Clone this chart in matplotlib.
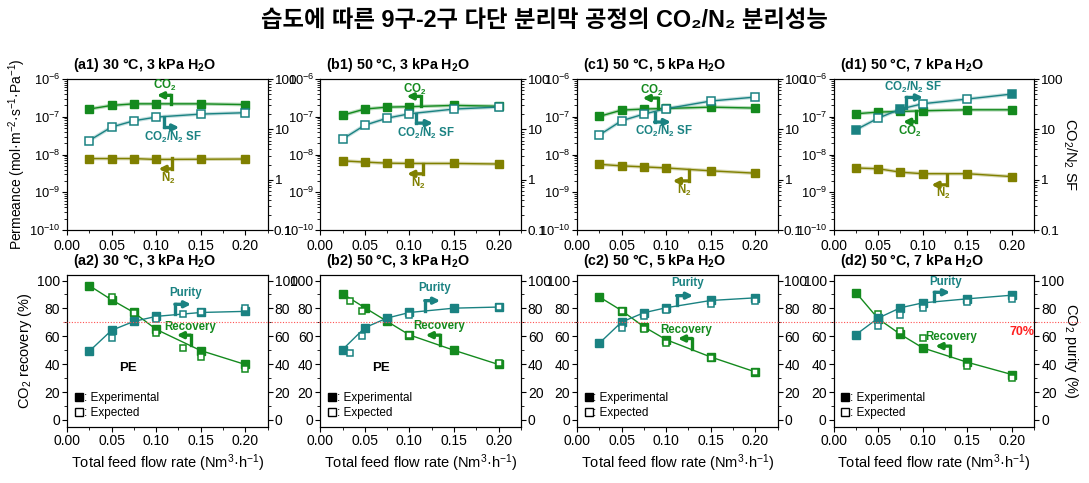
import numpy as np
import matplotlib.pyplot as plt
import matplotlib.transforms as mtransforms
from matplotlib.lines import Line2D
from matplotlib.ticker import MultipleLocator, FormatStrFormatter, FuncFormatter, FixedLocator, LogLocator

plt.rcParams['font.family'] = ['Liberation Sans', 'Noto Sans CJK KR', 'Noto Sans CJK JP', 'DejaVu Sans']
plt.rcParams['mathtext.default'] = 'regular'
plt.rcParams['font.size'] = 10
plt.rcParams['axes.unicode_minus'] = False

GREEN = '#148a1e'
TEAL = '#1a8282'
OLIVE = '#808000'

# feed flow rate (Nm3/h)
flow = [0.025, 0.05, 0.075, 0.1, 0.15, 0.2]

panel_top = ['(a1) 30 °C, 3 kPa H$_2$O', '(b1) 50 °C, 3 kPa H$_2$O',
             '(c1) 50 °C, 5 kPa H$_2$O', '(d1) 50 °C, 7 kPa H$_2$O']
panel_bot = ['(a2) 30 °C, 3 kPa H$_2$O', '(b2) 50 °C, 3 kPa H$_2$O',
             '(c2) 50 °C, 5 kPa H$_2$O', '(d2) 50 °C, 7 kPa H$_2$O']

# permeance (mol m-2 s-1 Pa-1)
co2_perm = [[1.6e-7, 2.0e-7, 2.2e-7, 2.2e-7, 2.2e-7, 2.1e-7],
            [1.1e-7, 1.6e-7, 1.8e-7, 1.85e-7, 2.0e-7, 1.9e-7],
            [1.02e-7, 1.5e-7, 1.6e-7, 1.66e-7, 1.8e-7, 1.7e-7],
            [1.2e-7, 1.33e-7, 1.38e-7, 1.44e-7, 1.53e-7, 1.53e-7]]
n2_perm = [[7.8e-9, 7.8e-9, 7.8e-9, 7.4e-9, 7.5e-9, 7.6e-9],
           [6.8e-9, 6.3e-9, 5.9e-9, 5.8e-9, 5.8e-9, 5.6e-9],
           [5.5e-9, 5.0e-9, 4.7e-9, 4.4e-9, 3.7e-9, 3.2e-9],
           [4.4e-9, 4.2e-9, 3.4e-9, 3.1e-9, 3.1e-9, 2.6e-9]]
# CO2/N2 separation factor
sf = [[6.0, 11.1, 14.8, 17.5, 20.1, 21.4],
      [6.4, 12.1, 16.7, 20.4, 25.3, 27.7],
      [7.7, 14.8, 20.1, 25.7, 36.5, 43.8],
      [9.8, 16.7, 25.3, 32.3, 40.0, 50.3]]
sf_filled = [[0, 0, 0, 0, 0, 0], [0, 0, 0, 0, 0, 0],
             [0, 0, 0, 0, 0, 0], [1, 0, 1, 0, 0, 1]]

# recovery / purity (%), experimental
rec_exp = [[96.4, 86.2, 77.1, 65.0, 49.8, 39.8],
           [90.5, 80.5, 70.7, 61.0, 50.0, 39.8],
           [88.3, 78.5, 66.9, 57.6, 45.2, 34.5],
           [91.4, 72.6, 61.4, 51.7, 41.4, 32.6]]
pur_exp = [[49.3, 64.3, 70.7, 74.3, 77.1, 77.9],
           [50.5, 66.2, 73.1, 77.1, 80.2, 81.0],
           [55.0, 70.2, 76.9, 80.5, 85.7, 87.6],
           [61.2, 73.1, 80.5, 84.0, 86.9, 89.5]]
# expected (simulation)
rec_sim_x = [[0.05, 0.075, 0.1, 0.13, 0.15, 0.2],
             [0.033, 0.0465, 0.1, 0.2],
             [0.05, 0.075, 0.1, 0.15, 0.2],
             [0.05, 0.075, 0.1, 0.15, 0.2]]
rec_sim = [[87.9, 77.0, 62.6, 51.9, 45.2, 36.9],
           [85.2, 78.3, 61.2, 41.2],
           [78.3, 65.2, 55.5, 44.8, 34.5],
           [76.0, 63.8, 58.6, 38.6, 30.0]]
pur_sim_x = [[0.05, 0.1, 0.13, 0.15, 0.2],
             [0.033, 0.0465, 0.1, 0.2],
             [0.05, 0.075, 0.1, 0.15, 0.2],
             [0.05, 0.075, 0.1, 0.15, 0.2]]
pur_sim = [[59.0, 72.6, 76.2, 77.1, 80.0],
           [48.3, 60.0, 75.0, 81.0],
           [66.0, 74.5, 78.6, 83.3, 85.2],
           [67.6, 75.5, 80.5, 84.5, 86.9]]

# bent arrow labels: (text, color, vx, y0, y1, x1, lx, ly) in axes fraction
notes_top = [
    [('CO$_2$', GREEN, 0.519, 0.834, 0.892, 0.448, 0.487, 0.956),
     ('CO$_2$/N$_2$ SF', TEAL, 0.486, 0.748, 0.679, 0.56, 0.53, 0.613),
     ('N$_2$', OLIVE, 0.525, 0.475, 0.405, 0.456, 0.506, 0.343)],
    [('CO$_2$', GREEN, 0.501, 0.819, 0.885, 0.43, 0.471, 0.934),
     ('CO$_2$/N$_2$ SF', TEAL, 0.479, 0.770, 0.708, 0.562, 0.529, 0.642),
     ('N$_2$', OLIVE, 0.512, 0.440, 0.372, 0.433, 0.488, 0.31)],
    [('CO$_2$', GREEN, 0.404, 0.805, 0.874, 0.327, 0.371, 0.925),
     ('CO$_2$/N$_2$ SF', TEAL, 0.387, 0.774, 0.715, 0.469, 0.436, 0.653),
     ('N$_2$', OLIVE, 0.559, 0.398, 0.325, 0.477, 0.534, 0.265)],
    [('CO$_2$/N$_2$ SF', TEAL, 0.362, 0.808, 0.878, 0.446, 0.396, 0.947),
     ('CO$_2$', GREEN, 0.409, 0.79, 0.717, 0.346, 0.379, 0.653),
     ('N$_2$', OLIVE, 0.566, 0.365, 0.299, 0.487, 0.546, 0.239)],
]
notes_bot = [
    [('Purity', TEAL, 0.538, 0.741, 0.807, 0.619, 0.59, 0.879),
     ('Recovery', GREEN, 0.616, 0.538, 0.604, 0.547, 0.616, 0.659)],
    [('Purity', TEAL, 0.521, 0.765, 0.831, 0.598, 0.57, 0.912),
     ('Recovery', GREEN, 0.598, 0.538, 0.604, 0.525, 0.594, 0.664)],
    [('Purity', TEAL, 0.497, 0.802, 0.864, 0.579, 0.549, 0.945),
     ('Recovery', GREEN, 0.575, 0.51, 0.582, 0.503, 0.544, 0.637)],
    [('Purity', TEAL, 0.502, 0.829, 0.886, 0.581, 0.556, 0.952),
     ('Recovery', GREEN, 0.581, 0.466, 0.532, 0.507, 0.585, 0.589)],
]


def bent_arrow(ax, text, color, vx, y0, y1, x1, lx, ly):
    ax.plot([vx, vx], [y0, y1], color=color, lw=2.4, transform=ax.transAxes,
            solid_capstyle='projecting', clip_on=False, zorder=6)
    ax.annotate('', xy=(x1, y1), xytext=(vx, y1), xycoords='axes fraction',
                arrowprops=dict(arrowstyle='-|>', color=color, lw=2.4,
                                mutation_scale=9, shrinkA=0, shrinkB=0), zorder=6)
    ax.text(lx, ly, text, color=color, fontsize=8.3, fontweight='bold',
            ha='center', va='center', transform=ax.transAxes, zorder=6)


def style_x(ax):
    ax.set_xlim(0, 0.225)
    ax.xaxis.set_major_locator(MultipleLocator(0.05))
    ax.xaxis.set_minor_locator(MultipleLocator(0.025))
    ax.xaxis.set_major_formatter(FormatStrFormatter('%.2f'))


fig = plt.figure(figsize=(10.89, 4.83), dpi=100)
lefts = [0.0615, 0.2941, 0.5298, 0.7655]
w = 0.1842

# plain text (no mathtext) so the Korean glyphs can fall back to the CJK font
fig.text(0.5, 0.957, '습도에 따른 9구-2구 다단 분리막 공정의 CO₂/N₂ 분리성능',
         ha='center', va='center', fontsize=16.8, fontweight='bold')

tick_kw = dict(direction='out', length=3.5, width=0.8, labelsize=10, pad=1.5)

for i in range(4):
    # permeance row
    ax = fig.add_axes([lefts[i], 0.5238, w, 0.3126])
    axr = ax.twinx()
    ax.set_yscale('log')
    ax.set_ylim(1e-10, 1e-6)
    ax.yaxis.set_major_locator(FixedLocator([1e-10, 1e-9, 1e-8, 1e-7, 1e-6]))
    ax.yaxis.set_minor_locator(LogLocator(subs=np.arange(2, 10), numticks=20))
    axr.set_yscale('log')
    axr.set_ylim(0.1, 100)
    axr.yaxis.set_major_locator(FixedLocator([0.1, 1, 10, 100]))
    axr.yaxis.set_minor_locator(LogLocator(subs=np.arange(2, 10), numticks=20))
    axr.yaxis.set_major_formatter(FuncFormatter(lambda v, p: f'{v:g}'))
    axr.yaxis.set_minor_formatter(FuncFormatter(lambda v, p: ''))
    ax.yaxis.set_minor_formatter(FuncFormatter(lambda v, p: ''))
    style_x(ax)
    for a in (ax, axr):
        a.tick_params(which='both', **tick_kw)
        a.tick_params(which='minor', length=2, width=0.6)
    ax.tick_params(axis='y', labelsize=9.3, pad=1)
    ax.tick_params(axis='x', pad=3)
    axr.tick_params(axis='y', labelsize=9.7, pad=1)

    ax.plot(flow, co2_perm[i], color=GREEN, lw=2.6, alpha=0.3, zorder=2)
    ax.plot(flow, co2_perm[i], color=GREEN, lw=1, marker='s', ms=6, zorder=3)
    ax.plot(flow, n2_perm[i], color=OLIVE, lw=2.6, alpha=0.3, zorder=2)
    ax.plot(flow, n2_perm[i], color=OLIVE, lw=1, marker='s', ms=6, zorder=3)
    axr.plot(flow, sf[i], color=TEAL, lw=2.6, alpha=0.25, zorder=2)
    axr.plot(flow, sf[i], color=TEAL, lw=1, zorder=3)
    for x, y, f in zip(flow, sf[i], sf_filled[i]):
        axr.plot(x, y, 's', ms=5.5, mec=TEAL, mfc=TEAL if f else 'white',
                 mew=1.1, zorder=4)

    for n in notes_top[i]:
        bent_arrow(axr, *n)

    ax.text(0.03, 1.03, panel_top[i], transform=ax.transAxes, fontsize=10.3,
            fontweight='bold', ha='left', va='bottom')
    if i == 0:
        ax.set_ylabel('Permeance (mol·m$^{-2}$·s$^{-1}$·Pa$^{-1}$)', fontsize=10, labelpad=1)
    if i == 3:
        axr.set_ylabel('CO$_2$/N$_2$ SF', fontsize=10.5, rotation=270, labelpad=11)

    # recovery / purity row
    bx = fig.add_axes([lefts[i], 0.116, w, 0.3147])
    bxr = bx.twinx()
    for a in (bx, bxr):
        a.set_ylim(-5, 104)
        a.yaxis.set_major_locator(MultipleLocator(20))
        a.yaxis.set_minor_locator(MultipleLocator(10))
        a.tick_params(which='both', **tick_kw)
        a.tick_params(which='minor', length=2, width=0.6)
    style_x(bx)

    bx.plot(flow, rec_exp[i], color=GREEN, lw=1, marker='s', ms=6, zorder=3)
    bx.plot(rec_sim_x[i], rec_sim[i], ls='none', marker='s', ms=5,
            mec=GREEN, mfc='white', mew=1.1, zorder=4)
    bxr.plot(flow, pur_exp[i], color=TEAL, lw=1, marker='s', ms=6, zorder=3)
    bxr.plot(pur_sim_x[i], pur_sim[i], ls='none', marker='s', ms=5,
             mec=TEAL, mfc='white', mew=1.1, zorder=4)

    for n in notes_bot[i]:
        bent_arrow(bxr, *n)

    if i < 2:
        bx.text(0.305, 0.385, 'PE', transform=bx.transAxes, fontsize=9.5,
                fontweight='bold', ha='center', va='center')
    if i == 3:
        bxr.text(0.94, 0.626, '70%', transform=bx.transAxes, color='#ff2020',
                 fontsize=9, fontweight='bold', ha='center', va='center')

    handles = [Line2D([], [], ls='none', marker='s', ms=6, color='black'),
               Line2D([], [], ls='none', marker='s', ms=6, mec='black', mfc='white', mew=1)]
    bxr.legend(handles, [': Experimental', ': Expected'], loc='lower left',
               frameon=False, fontsize=8.5, handlelength=0.6, handletextpad=0.1,
               labelspacing=0.25, borderaxespad=0.3)

    bx.text(0.03, 1.03, panel_bot[i], transform=bx.transAxes, fontsize=10.3,
            fontweight='bold', ha='left', va='bottom')
    bx.set_xlabel('Total feed flow rate (Nm$^3$·h$^{-1}$)', fontsize=10.5, labelpad=3)
    if i == 0:
        bx.set_ylabel('CO$_2$ recovery (%)', fontsize=10.5, labelpad=2)
        ref_ax = bx
    if i == 3:
        bxr.set_ylabel('CO$_2$ purity (%)', fontsize=10.5, rotation=270, labelpad=11)

# 70 % guide line across the bottom row
trans = mtransforms.blended_transform_factory(fig.transFigure, ref_ax.transData)
fig.add_artist(Line2D([0.058, 0.992], [70, 70], transform=trans, color='#ff5050',
                      lw=0.8, ls=(0, (1, 1.5)), zorder=10))

fig.savefig('out.png', dpi=100)
